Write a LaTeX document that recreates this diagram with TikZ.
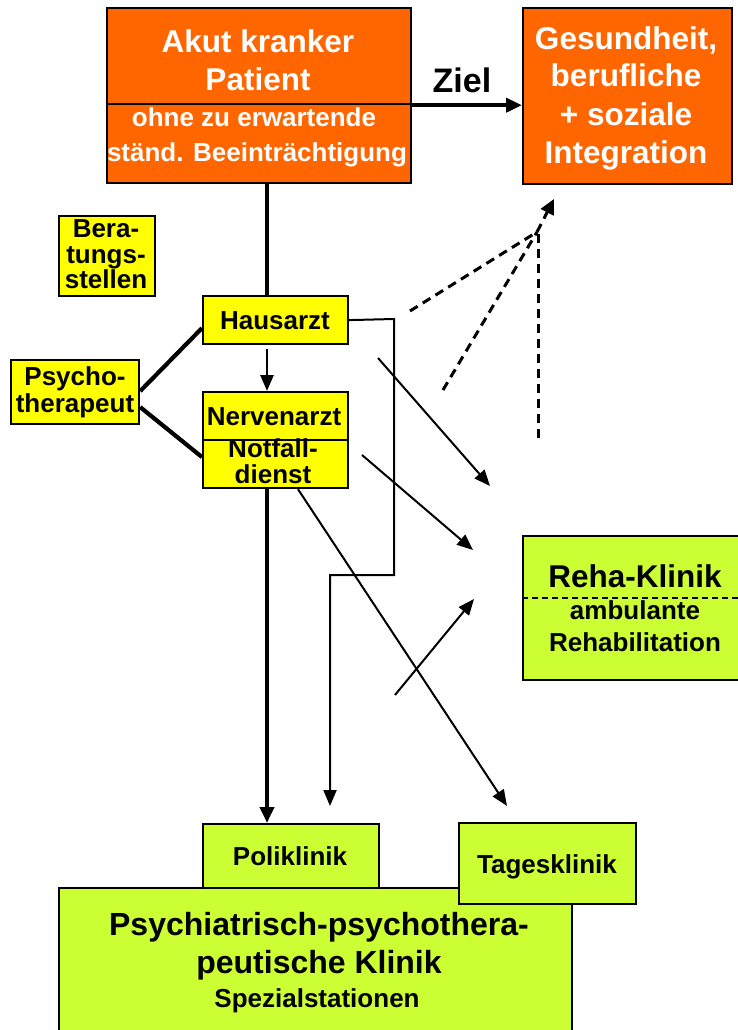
\documentclass[tikz,border=0pt]{standalone}
\usepackage{fontspec}
\setmainfont{Liberation Sans}
\usetikzlibrary{arrows.meta,calc}
\definecolor{orng}{HTML}{FF6600}
\definecolor{ylw}{HTML}{FFFF00}
\definecolor{lime}{HTML}{CCFF33}
\begin{document}
\begin{tikzpicture}[x=1pt,y=-1pt,
  box/.style={draw=black, line width=2.2pt, inner sep=0pt, anchor=north west},
  lbl/.style={anchor=base, inner sep=0pt, font=\bfseries\fontsize{26}{26}\selectfont},
  big/.style={anchor=base, inner sep=0pt, font=\bfseries\fontsize{31.5}{31.5}\selectfont},
  heavy/.style={line width=4.2pt},
  slim/.style={line width=2pt},
  tipb/.style={-{Triangle[length=16pt,width=14pt]}},
  tips/.style={-{Triangle[length=16pt,width=13pt]}},
  dsh/.style={line width=3pt, dash pattern=on 9pt off 6pt},
]
\useasboundingbox (0,0) rectangle (738,1030);

% orange boxes
\node[box, fill=orng, minimum width=304pt, minimum height=96pt] (patA) at (106,7) {};
\node[box, fill=orng, minimum width=304pt, minimum height=79pt] (patB) at (106,103) {};
\node[box, fill=orng, minimum width=209pt, minimum height=176pt] (goal) at (522,7) {};

\node[big, text=white] (t1) at (258,53) {Akut kranker};
\node[big, text=white] (t2) at (258,91) {Patient};
\node[lbl, text=white] (t3) at (254,127) {ohne zu erwartende};
\node[lbl, text=white] (t4) at (257,161) {ständ. Beeinträchtigung};

\node[big, text=white] (g1) at (626,50) {Gesundheit,};
\node[big, text=white] (g2) at (626,87) {berufliche};
\node[big, text=white] (g3) at (626,125) {+ soziale};
\node[big, text=white] (g4) at (626,163) {Integration};

\draw[heavy, tipb] (patA.south east) -- (goal.west |- patA.south east);
\node[anchor=base, inner sep=0pt, font=\bfseries\fontsize{34}{34}\selectfont] (ziel) at (462,93) {Ziel};

% yellow boxes
\node[box, fill=ylw, minimum width=96pt, minimum height=80pt] (ber) at (58,215) {};
\node[lbl] (b1) at (106,237) {Bera-};
\node[lbl] (b2) at (106,263) {tungs-};
\node[lbl] (b3) at (106,288) {stellen};

\node[box, fill=ylw, minimum width=145pt, minimum height=48pt] (haus) at (202,295) {};
\node[lbl] (h1) at (275,329) {Hausarzt};

\node[box, fill=ylw, minimum width=128pt, minimum height=64pt] (psy) at (10,359) {};
\node[lbl] (p1) at (75,385) {Psycho-};
\node[lbl] (p2) at (75,412) {therapeut};

\node[box, fill=ylw, minimum width=145pt, minimum height=48pt] (nerv) at (202,391) {};
\node[box, fill=ylw, minimum width=145pt, minimum height=48pt] (notf) at (202,439) {};
\node[lbl] (n1) at (274,425) {Nervenarzt};
\node[lbl] (n2) at (273,457) {Notfall-};
\node[lbl] (n3) at (273,483) {dienst};

% Reha box
\node[box, fill=lime, minimum width=240pt, minimum height=144pt] (reha) at (522,535) {};
\draw[line width=1.6pt, dash pattern=on 6pt off 4pt] (reha.west |- 0,598) -- (reha.east |- 0,598);
\node[big] (r1) at (635,587) {Reha-Klinik};
\node[lbl] (r2) at (635,619) {ambulante};
\node[lbl] (r3) at (635,651) {Rehabilitation};

% bottom boxes
\node[box, fill=lime, minimum width=513pt, minimum height=160pt] (main) at (58,887) {};
\node[box, fill=lime, minimum width=176pt, minimum height=64pt] (poli) at (202,823) {};
\node[box, fill=lime, minimum width=177pt, minimum height=81pt] (tag) at (458,822) {};
\node[lbl] (k1) at (290,865) {Poliklinik};
\node[lbl] (k2) at (547,873) {Tagesklinik};
\node[anchor=base, inner sep=0pt, font=\bfseries\fontsize{32}{32}\selectfont] (m1) at (319,935) {Psychiatrisch-psychothera-};
\node[anchor=base, inner sep=0pt, font=\bfseries\fontsize{32}{32}\selectfont] (m2) at (319,973) {peutische Klinik};
\node[lbl] (m3) at (317,1007) {Spezialstationen};

% main trunk
\coordinate (col) at (267,0);
\draw[heavy] (col |- patB.south) -- (col |- haus.north);
\draw[line width=2.8pt, tips] ($(col |- haus.south)+(0,4)$) -- (col |- nerv.north);
\draw[heavy, tipb] (col |- notf.south) -- (col |- poli.north);

% psychotherapeut links
\draw[heavy] ($(psy.east)+(0,-1)$) -- ($(haus.west)+(0,8)$);
\draw[heavy] ($(psy.east)+(0,15)$) -- ($(notf.west)+(0,-7)$);

% Hausarzt routed connector
\coordinate (hb1) at (394,319);
\coordinate (hb2) at (394,575);
\coordinate (hb3) at (330,575);
\coordinate (hpe) at (330,806);
\draw[slim, tips] (haus.east) -- (hb1) -- (hb2) -- (hb3) -- (hpe);

% diagonal arrows
\coordinate (a1s) at (378,358); \coordinate (a1e) at (490,486);
\coordinate (a2s) at (362,455); \coordinate (a2e) at (473,550);
\coordinate (a3s) at (395,695); \coordinate (a3e) at (474,599);
\coordinate (a4e) at (507,806);
\draw[slim, tips] (a1s) -- (a1e);
\draw[slim, tips] (a2s) -- (a2e);
\draw[slim, tips] (a3s) -- (a3e);
\draw[slim, tips] (notf.south -| 298,0) -- (a4e);

% dashed lines to goal
\coordinate (conv) at (537,232);
\coordinate (dtip) at (554,199);
\coordinate (d1s) at (410,311);
\coordinate (d2s) at (443,390);
\coordinate (d3s) at (538,438);
\draw[dsh] (d1s) -- (conv);
\draw[dsh] (d2s) -- (conv);
\draw[dsh] (d3s) -- (538,230);
\draw[dsh, -{Triangle[length=15pt,width=14pt]}] (conv) -- (dtip);
\end{tikzpicture}
\end{document}
